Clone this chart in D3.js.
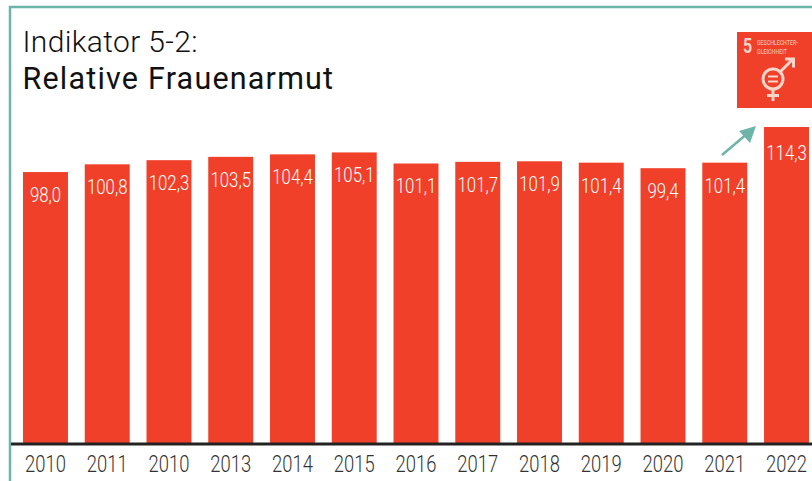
<!DOCTYPE html>
<html><head><meta charset="utf-8">
<script src="https://cdn.jsdelivr.net/npm/d3@7/dist/d3.min.js"></script>
<style>html,body{margin:0;padding:0;background:#fff}svg{display:block}</style></head>
<body><svg id="c" width="812" height="481"></svg>
<script>
const years=["2010","2011","2010","2013","2014","2015","2016","2017","2018","2019","2020","2021","2022"];
const values=[98.0,100.8,102.3,103.5,104.4,105.1,101.1,101.7,101.9,101.4,99.4,101.4,114.3];
const labels=["98,0","100,8","102,3","103,5","104,4","105,1","101,1","101,7","101,9","101,4","99,4","101,4","114,3"];
const titleLines=["Indikator 5-2:","Relative Frauenarmut"];
const iconLines=["GESCHLECHTER-","GLEICHHEIT"];
const RED="#f0402a",TEAL="#6db5aa";
const svg=d3.select("#c");
const x=d3.scaleBand().domain(d3.range(years.length)).range([23,809]).paddingInner(0.272);
const y=d3.scaleLinear().domain([0,114.3]).range([443,127]);

// frame
svg.append("path").attr("d","M812,7H10V481").attr("fill","none").attr("stroke",TEAL).attr("stroke-width",2.5);

// titles
svg.append("text").attr("x",22.5).attr("y",52).attr("font-family","Roboto").attr("font-weight",300).attr("font-size",30).attr("letter-spacing",0.35).attr("fill","#111").text(titleLines[0]);
svg.append("text").attr("x",22.5).attr("y",88.5).attr("font-family","Roboto").attr("font-weight",400).attr("font-size",30.5).attr("letter-spacing",1.2).attr("fill","#111").text(titleLines[1]);

// bars
svg.append("g").selectAll("rect").data(values).join("rect")
 .attr("x",(d,i)=>x(i)).attr("width",x.bandwidth()).attr("y",d=>y(d)).attr("height",d=>y(0)-y(d)).attr("fill",RED);

// value labels
svg.append("g").selectAll("text").data(values).join("text")
 .attr("transform",(d,i)=>`translate(${x(i)+x.bandwidth()/2},${y(d)+(i===12?32.5:30)}) scale(0.8,1)`)
 .attr("text-anchor","middle").attr("font-family","Roboto").attr("font-weight",300).attr("font-size",21).attr("fill","#fff")
 .text((d,i)=>labels[i]);

// axis
const axis=d3.axisBottom(x).tickSize(0).tickPadding(12.5).tickFormat(i=>years[i]);
const ax=svg.append("g").attr("transform","translate(0,443)").call(axis);
ax.select(".domain").remove();
svg.append("line").attr("x1",11).attr("x2",812).attr("y1",444).attr("y2",444).attr("stroke","#222").attr("stroke-width",3);
ax.selectAll("text").attr("font-family","Roboto").attr("font-weight",300).attr("font-size",23).attr("fill","#333")
 .attr("transform","scale(0.8,1)");

// SDG icon
const ic=svg.append("g").attr("transform","translate(737,32)");
ic.append("rect").attr("width",75).attr("height",76).attr("fill",RED);
ic.append("text").attr("transform","translate(6,21) scale(0.8,1)").attr("font-family","Roboto").attr("font-weight",700).attr("font-size",20).attr("fill","#f6d8cf").text("5");
iconLines.forEach((t,i)=>ic.append("text").attr("x",20).attr("y",13+i*8.5).attr("font-family","Roboto").attr("font-weight",500).attr("font-size",7).attr("textLength",i?30:41).attr("lengthAdjust","spacingAndGlyphs").attr("fill","#f3b9a8").text(t));
const sym=ic.append("g").attr("fill","none").attr("stroke","#f8d5c8").attr("stroke-width",3);
sym.append("circle").attr("cx",36).attr("cy",47).attr("r",10);
sym.append("path").attr("d","M36,57V69M30,63.5H42M43,40L55,28M48,27H56.5V35.5");
sym.append("path").attr("d","M31,44.5H41M31,49.5H41").attr("stroke-width",2.2);

// arrow
svg.append("line").attr("x1",722).attr("y1",155).attr("x2",748).attr("y2",133).attr("stroke",TEAL).attr("stroke-width",2.5);
svg.append("path").attr("d","M756,126L739,131L750,143Z").attr("fill",TEAL);
</script></body></html>
